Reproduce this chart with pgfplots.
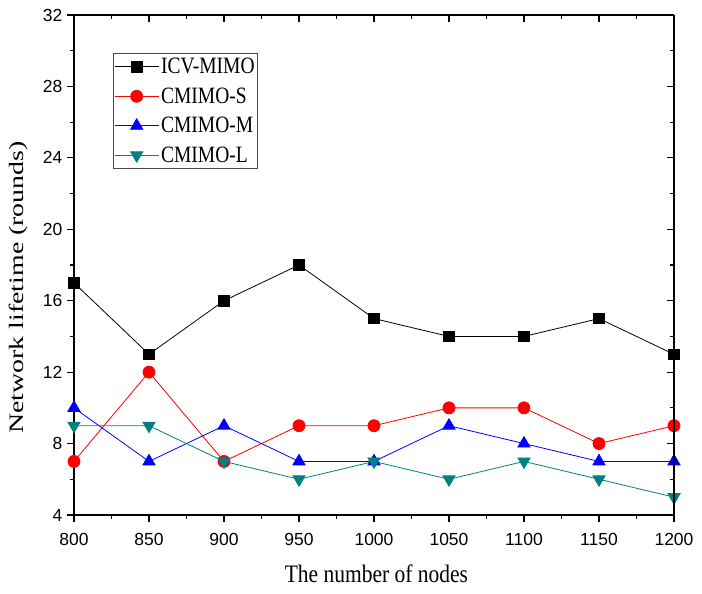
\documentclass[border=0pt]{standalone}
\usepackage{pgfplots}
\pgfplotsset{compat=1.18}
\usepackage{fontspec}
\setmainfont{Liberation Serif}
\newfontfamily\arialfont{Liberation Sans}
\definecolor{tealc}{RGB}{0,128,128}
\begin{document}
\begin{tikzpicture}
\pgfplotsset{
  common/.style={
    width=600pt, height=500pt, scale only axis,
    xmin=800, xmax=1200, ymin=4, ymax=32,
    xtick={800,850,...,1200}, ytick={4,8,...,32},
    minor x tick num=1, minor y tick num=1,
    axis line style={line width=1.3pt},
    every tick/.style={black, line width=1.1pt},
    major tick length=7pt, minor tick length=4pt,
  }
}
\begin{axis}[common,
  axis x line*=bottom, axis y line*=left,
  axis line style={line width=1.3pt,-},
  tick align=outside,
  xticklabel style={font=\arialfont\fontsize{17.5}{17.5}\selectfont, yshift=-8pt},
  yticklabel style={font=\arialfont\fontsize{17.5}{17.5}\selectfont, xshift=-1pt},
  /pgf/number format/assume math mode=true,
  /pgf/number format/1000 sep={},
  xlabel={\fontsize{21.5}{21.5}\selectfont\scalebox{1}[1.17]{The number of nodes}},
  ylabel={\fontsize{20.5}{20.5}\selectfont\scalebox{1.36}[1]{Network lifetime (rounds)}},
  xlabel style={at={(axis description cs:0.504,-0.136)}, anchor=base},
  ylabel style={at={(axis description cs:-0.093,0.455)}, anchor=center},
  legend style={at={(0.065,0.924)}, anchor=north west, draw=black!70, line width=0.6pt,
    font=\fontsize{19.5}{19.5}\selectfont, row sep=8.5pt, inner xsep=1pt, inner ysep=3pt,
    cells={anchor=west}},
  legend image code/.code={
    \draw[mark repeat=2, mark phase=2, #1] plot coordinates {(0pt,0pt) (22pt,0pt) (44pt,0pt)};},
  every axis plot/.append style={line width=0.8pt},
]
\addplot[black, mark=square*, mark size=5.3pt, mark options={fill=black}] coordinates {
(800,17) (850,13) (900,16) (950,18) (1000,15) (1050,14) (1100,14) (1150,15) (1200,13)};
\addlegendentry{\scalebox{1}[1.2]{ICV-MIMO}}
\addplot[red, mark=*, mark size=6pt, mark options={fill=red}] coordinates {
(800,7) (850,12) (900,7) (950,9) (1000,9) (1050,10) (1100,10) (1150,8) (1200,9)};
\addlegendentry{\scalebox{1}[1.2]{CMIMO-S}}
\addplot[blue, mark=triangle*, mark size=7pt, mark options={fill=blue}] coordinates {
(800,10) (850,7) (900,9) (950,7) (1000,7) (1050,9) (1100,8) (1150,7) (1200,7)};
\addlegendentry{\scalebox{1}[1.2]{CMIMO-M}}
\addplot[tealc, mark=triangle*, mark size=7pt, mark options={fill=tealc, rotate=180}] coordinates {
(800,9) (850,9) (900,7) (950,6) (1000,7) (1050,6) (1100,7) (1150,6) (1200,5)};
\addlegendentry{\scalebox{1}[1.2]{CMIMO-L}}
\end{axis}
\begin{axis}[common,
  axis x line*=top, axis y line*=right,
  axis line style={line width=1.3pt,-},
  tick align=inside,
  xticklabels={}, yticklabels={},
]
\end{axis}
\pgfresetboundingbox
\path (-74pt,-79pt) rectangle (628pt,515pt);
\end{tikzpicture}
\end{document}
